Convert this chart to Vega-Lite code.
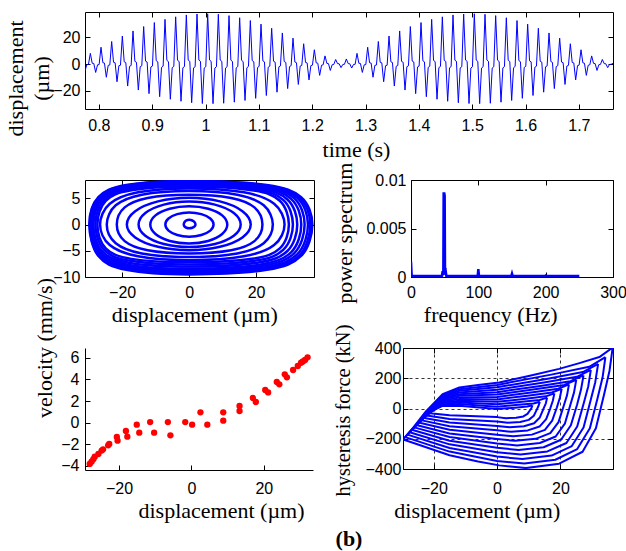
{
"$schema":"https://vega.github.io/schema/vega-lite/v6.json",
"padding":{"left":4,"top":10,"right":0,"bottom":10},
"background":"white",
"title":{"text":"(b)","orient":"bottom","anchor":"middle","frame":"group","dx":264,"font":"Liberation Serif","fontSize":22,"fontWeight":"bold","color":"black","offset":7},
"config":{
"view":{"stroke":"black","strokeWidth":1},
"axis":{"labelFont":"Liberation Sans","labelFontSize":16,"labelColor":"black","titleFont":"Liberation Serif","titleFontSize":22,"titleFontWeight":"normal","titleColor":"black","tickColor":"black","tickSize":-5,"tickWidth":1,"domain":false,"grid":false,"labelFlush":false,"labelOverlap":false,"labelPadding":10,"domainColor":"black","gridColor":"black","gridDash":[3,3],"gridWidth":0.8,"gridOpacity":1}
},
"spacing":336,
"bounds":"flush",
"vconcat":[
{"spacing":71,"bounds":"flush","vconcat":[
{"width":528,"height":97,
"data":{"values":[{"t":0.774,"v":-5},{"t":0.7775,"v":-0.5},{"t":0.7805,"v":-0.3},
{"t":0.784,"v":8},{"t":0.7875,"v":0.6},{"t":0.7905,"v":0.4},{"t":0.794,"v":-6.3},{"t":0.7975,"v":-0.6},{"t":0.8005,"v":-0.4},
{"t":0.804,"v":12.6},{"t":0.8075,"v":1},{"t":0.8105,"v":0.7},{"t":0.814,"v":-9.9},{"t":0.8175,"v":-1},{"t":0.8205,"v":-0.7},
{"t":0.824,"v":16.9},{"t":0.8275,"v":1.3},{"t":0.8305,"v":0.9},{"t":0.834,"v":-13.3},{"t":0.8375,"v":-1.3},{"t":0.8405,"v":-0.9},
{"t":0.844,"v":21},{"t":0.8475,"v":1.7},{"t":0.8505,"v":1.1},{"t":0.854,"v":-16.5},{"t":0.8575,"v":-1.7},{"t":0.8605,"v":-1.1},
{"t":0.864,"v":24.8},{"t":0.8675,"v":2},{"t":0.8705,"v":1.3},{"t":0.874,"v":-19.5},{"t":0.8775,"v":-2},{"t":0.8805,"v":-1.3},
{"t":0.884,"v":28.1},{"t":0.8875,"v":2.2},{"t":0.8905,"v":1.5},{"t":0.894,"v":-22.2},{"t":0.8975,"v":-2.2},{"t":0.9005,"v":-1.5},
{"t":0.904,"v":31.1},{"t":0.9075,"v":2.5},{"t":0.9105,"v":1.6},{"t":0.914,"v":-24.5},{"t":0.9175,"v":-2.5},{"t":0.9205,"v":-1.6},
{"t":0.924,"v":33.5},{"t":0.9275,"v":2.7},{"t":0.9305,"v":1.8},{"t":0.934,"v":-26.4},{"t":0.9375,"v":-2.7},{"t":0.9405,"v":-1.8},
{"t":0.944,"v":35.4},{"t":0.9475,"v":2.8},{"t":0.9505,"v":1.9},{"t":0.954,"v":-27.9},{"t":0.9575,"v":-2.8},{"t":0.9605,"v":-1.9},
{"t":0.964,"v":36.8},{"t":0.9675,"v":2.9},{"t":0.9705,"v":2},{"t":0.974,"v":-29},{"t":0.9775,"v":-2.9},{"t":0.9805,"v":-2},
{"t":0.984,"v":37.5},{"t":0.9875,"v":3},{"t":0.9905,"v":2},{"t":0.994,"v":-29.6},{"t":0.9975,"v":-3},{"t":1.0005,"v":-2},
{"t":1.004,"v":37.7},{"t":1.0075,"v":3},{"t":1.0105,"v":2},{"t":1.014,"v":-29.7},{"t":1.0175,"v":-3},{"t":1.0205,"v":-2},
{"t":1.024,"v":37.3},{"t":1.0275,"v":3},{"t":1.0305,"v":2},{"t":1.034,"v":-29.4},{"t":1.0375,"v":-3},{"t":1.0405,"v":-2},
{"t":1.044,"v":36.3},{"t":1.0475,"v":2.9},{"t":1.0505,"v":1.9},{"t":1.054,"v":-28.6},{"t":1.0575,"v":-2.9},{"t":1.0605,"v":-1.9},
{"t":1.064,"v":34.7},{"t":1.0675,"v":2.8},{"t":1.0705,"v":1.8},{"t":1.074,"v":-27.3},{"t":1.0775,"v":-2.8},{"t":1.0805,"v":-1.8},
{"t":1.084,"v":32.6},{"t":1.0875,"v":2.6},{"t":1.0905,"v":1.7},{"t":1.094,"v":-25.7},{"t":1.0975,"v":-2.6},{"t":1.1005,"v":-1.7},
{"t":1.104,"v":29.9},{"t":1.1075,"v":2.4},{"t":1.1105,"v":1.6},{"t":1.114,"v":-23.6},{"t":1.1175,"v":-2.4},{"t":1.1205,"v":-1.6},
{"t":1.124,"v":26.8},{"t":1.1275,"v":2.1},{"t":1.1305,"v":1.4},{"t":1.134,"v":-21.1},{"t":1.1375,"v":-2.1},{"t":1.1405,"v":-1.4},
{"t":1.144,"v":23.3},{"t":1.1475,"v":1.9},{"t":1.1505,"v":1.2},{"t":1.154,"v":-18.4},{"t":1.1575,"v":-1.9},{"t":1.1605,"v":-1.2},
{"t":1.164,"v":19.4},{"t":1.1675,"v":1.5},{"t":1.1705,"v":1},{"t":1.174,"v":-15.3},{"t":1.1775,"v":-1.5},{"t":1.1805,"v":-1},
{"t":1.184,"v":15.2},{"t":1.1875,"v":1.2},{"t":1.1905,"v":0.8},{"t":1.194,"v":-11.9},{"t":1.1975,"v":-1.2},{"t":1.2005,"v":-0.8},
{"t":1.204,"v":10.7},{"t":1.2075,"v":0.9},{"t":1.2105,"v":0.6},{"t":1.214,"v":-8.5},{"t":1.2175,"v":-0.9},{"t":1.2205,"v":-0.6},
{"t":1.224,"v":6.1},{"t":1.2275,"v":0.5},{"t":1.2305,"v":0.3},{"t":1.234,"v":-4.8},{"t":1.2375,"v":-0.5},{"t":1.2405,"v":-0.3},
{"t":1.244,"v":3.4},{"t":1.2475,"v":0.3},{"t":1.2505,"v":0.2},{"t":1.254,"v":-2.7},{"t":1.2575,"v":-0.3},{"t":1.2605,"v":-0.2},
{"t":1.264,"v":3.8},{"t":1.2675,"v":0.3},{"t":1.2705,"v":0.2},{"t":1.274,"v":-3},{"t":1.2775,"v":-0.3},{"t":1.2805,"v":-0.2},
{"t":1.284,"v":8},{"t":1.2875,"v":0.6},{"t":1.2905,"v":0.4},{"t":1.294,"v":-6.3},{"t":1.2975,"v":-0.6},{"t":1.3005,"v":-0.4},
{"t":1.304,"v":12.6},{"t":1.3075,"v":1},{"t":1.3105,"v":0.7},{"t":1.314,"v":-9.9},{"t":1.3175,"v":-1},{"t":1.3205,"v":-0.7},
{"t":1.324,"v":16.9},{"t":1.3275,"v":1.3},{"t":1.3305,"v":0.9},{"t":1.334,"v":-13.3},{"t":1.3375,"v":-1.3},{"t":1.3405,"v":-0.9},
{"t":1.344,"v":21},{"t":1.3475,"v":1.7},{"t":1.3505,"v":1.1},{"t":1.354,"v":-16.5},{"t":1.3575,"v":-1.7},{"t":1.3605,"v":-1.1},
{"t":1.364,"v":24.8},{"t":1.3675,"v":2},{"t":1.3705,"v":1.3},{"t":1.374,"v":-19.5},{"t":1.3775,"v":-2},{"t":1.3805,"v":-1.3},
{"t":1.384,"v":28.1},{"t":1.3875,"v":2.2},{"t":1.3905,"v":1.5},{"t":1.394,"v":-22.2},{"t":1.3975,"v":-2.2},{"t":1.4005,"v":-1.5},
{"t":1.404,"v":31.1},{"t":1.4075,"v":2.5},{"t":1.4105,"v":1.6},{"t":1.414,"v":-24.5},{"t":1.4175,"v":-2.5},{"t":1.4205,"v":-1.6},
{"t":1.424,"v":33.5},{"t":1.4275,"v":2.7},{"t":1.4305,"v":1.8},{"t":1.434,"v":-26.4},{"t":1.4375,"v":-2.7},{"t":1.4405,"v":-1.8},
{"t":1.444,"v":35.4},{"t":1.4475,"v":2.8},{"t":1.4505,"v":1.9},{"t":1.454,"v":-27.9},{"t":1.4575,"v":-2.8},{"t":1.4605,"v":-1.9},
{"t":1.464,"v":36.8},{"t":1.4675,"v":2.9},{"t":1.4705,"v":2},{"t":1.474,"v":-29},{"t":1.4775,"v":-2.9},{"t":1.4805,"v":-2},
{"t":1.484,"v":37.5},{"t":1.4875,"v":3},{"t":1.4905,"v":2},{"t":1.494,"v":-29.6},{"t":1.4975,"v":-3},{"t":1.5005,"v":-2},
{"t":1.504,"v":37.7},{"t":1.5075,"v":3},{"t":1.5105,"v":2},{"t":1.514,"v":-29.7},{"t":1.5175,"v":-3},{"t":1.5205,"v":-2},
{"t":1.524,"v":37.3},{"t":1.5275,"v":3},{"t":1.5305,"v":2},{"t":1.534,"v":-29.4},{"t":1.5375,"v":-3},{"t":1.5405,"v":-2},
{"t":1.544,"v":36.3},{"t":1.5475,"v":2.9},{"t":1.5505,"v":1.9},{"t":1.554,"v":-28.6},{"t":1.5575,"v":-2.9},{"t":1.5605,"v":-1.9},
{"t":1.564,"v":34.7},{"t":1.5675,"v":2.8},{"t":1.5705,"v":1.8},{"t":1.574,"v":-27.3},{"t":1.5775,"v":-2.8},{"t":1.5805,"v":-1.8},
{"t":1.584,"v":32.6},{"t":1.5875,"v":2.6},{"t":1.5905,"v":1.7},{"t":1.594,"v":-25.7},{"t":1.5975,"v":-2.6},{"t":1.6005,"v":-1.7},
{"t":1.604,"v":29.9},{"t":1.6075,"v":2.4},{"t":1.6105,"v":1.6},{"t":1.614,"v":-23.6},{"t":1.6175,"v":-2.4},{"t":1.6205,"v":-1.6},
{"t":1.624,"v":26.8},{"t":1.6275,"v":2.1},{"t":1.6305,"v":1.4},{"t":1.634,"v":-21.1},{"t":1.6375,"v":-2.1},{"t":1.6405,"v":-1.4},
{"t":1.644,"v":23.3},{"t":1.6475,"v":1.9},{"t":1.6505,"v":1.2},{"t":1.654,"v":-18.4},{"t":1.6575,"v":-1.9},{"t":1.6605,"v":-1.2},
{"t":1.664,"v":19.4},{"t":1.6675,"v":1.5},{"t":1.6705,"v":1},{"t":1.674,"v":-15.3},{"t":1.6775,"v":-1.5},{"t":1.6805,"v":-1},
{"t":1.684,"v":15.2},{"t":1.6875,"v":1.2},{"t":1.6905,"v":0.8},{"t":1.694,"v":-11.9},{"t":1.6975,"v":-1.2},{"t":1.7005,"v":-0.8},
{"t":1.704,"v":10.7},{"t":1.7075,"v":0.9},{"t":1.7105,"v":0.6},{"t":1.714,"v":-8.5},{"t":1.7175,"v":-0.9},{"t":1.7205,"v":-0.6},
{"t":1.724,"v":6.1},{"t":1.7275,"v":0.5},{"t":1.7305,"v":0.3},{"t":1.734,"v":-4.8},{"t":1.7375,"v":-0.5},{"t":1.7405,"v":-0.3},
{"t":1.744,"v":3.4},{"t":1.7475,"v":0.3},{"t":1.7505,"v":0.2},{"t":1.754,"v":-2.7},{"t":1.7575,"v":-0.3},{"t":1.7605,"v":-0.2},
{"t":1.764,"v":0.5}]},
"layer":[
{"mark":{"type":"line","color":"#0000ff","strokeWidth":1,"clip":true},
"encoding":{
"x":{"field":"t","type":"quantitative","scale":{"domain":[0.774,1.764],"nice":false,"zero":false},"axis":{"orient":"bottom","title":"time (s)","values":[0.8,0.9,1,1.1,1.2,1.3,1.4,1.5,1.6,1.7],"format":"~g","labelPadding":13,"titleX":271,"titleY":47,"titleBaseline":"alphabetic"}},
"y":{"field":"v","type":"quantitative","scale":{"domain":[-33.7,39],"nice":false,"zero":false},"axis":{"orient":"left","title":["displacement","(µm)"],"values":[-20,0,20],"labelPadding":10,"titleX":-62.5,"titleY":66,"titleBaseline":"alphabetic","titleLineHeight":25.5,"titleAngle":270}}}},
{"mark":{"type":"point","opacity":0},
"encoding":{
"x":{"field":"t","type":"quantitative","scale":{"domain":[0.774,1.764],"nice":false,"zero":false},"axis":{"orient":"top","labels":false,"title":null,"values":[0.8,0.9,1,1.1,1.2,1.3,1.4,1.5,1.6,1.7]}},
"y":{"field":"v","type":"quantitative","scale":{"domain":[-33.7,39],"nice":false,"zero":false},"axis":{"orient":"right","labels":false,"title":null,"values":[-20,0,20]}}}}
],
"resolve":{"axis":{"x":"independent","y":"independent"}}
},
{"spacing":97,"bounds":"flush","hconcat":[
{"width":229,"height":97,
"data":{"values":[
{"d":1.9,"v":0,"g":1,"o":0},{"d":1.65,"v":0.45,"g":1,"o":1},{"d":0.95,"v":0.78,"g":1,"o":2},{"d":0,"v":0.9,"g":1,"o":3},{"d":-0.8,"v":0.78,"g":1,"o":4},{"d":-1.39,"v":0.45,"g":1,"o":5},{"d":-1.6,"v":0,"g":1,"o":6},{"d":-1.39,"v":-0.35,"g":1,"o":7},{"d":-0.8,"v":-0.61,"g":1,"o":8},{"d":0,"v":-0.7,"g":1,"o":9},{"d":0.95,"v":-0.61,"g":1,"o":10},{"d":1.65,"v":-0.35,"g":1,"o":11},
{"d":7.3,"v":0,"g":2,"o":0},{"d":6.32,"v":1.15,"g":2,"o":1},{"d":3.65,"v":1.99,"g":2,"o":2},{"d":0,"v":2.3,"g":2,"o":3},{"d":-3.55,"v":1.99,"g":2,"o":4},{"d":-6.15,"v":1.15,"g":2,"o":5},{"d":-7.1,"v":0,"g":2,"o":6},{"d":-6.15,"v":-1.15,"g":2,"o":7},{"d":-3.55,"v":-1.99,"g":2,"o":8},{"d":0,"v":-2.3,"g":2,"o":9},{"d":3.65,"v":-1.99,"g":2,"o":10},{"d":6.32,"v":-1.15,"g":2,"o":11},
{"d":11.4,"v":0,"g":3,"o":0},{"d":9.87,"v":1.75,"g":3,"o":1},{"d":5.7,"v":3.03,"g":3,"o":2},{"d":0,"v":3.5,"g":3,"o":3},{"d":-5.8,"v":3.03,"g":3,"o":4},{"d":-10.05,"v":1.75,"g":3,"o":5},{"d":-11.6,"v":0,"g":3,"o":6},{"d":-10.05,"v":-1.8,"g":3,"o":7},{"d":-5.8,"v":-3.12,"g":3,"o":8},{"d":0,"v":-3.6,"g":3,"o":9},{"d":5.7,"v":-3.12,"g":3,"o":10},{"d":9.87,"v":-1.8,"g":3,"o":11},
{"d":15.4,"v":0,"g":4,"o":0},{"d":13.34,"v":2.2,"g":4,"o":1},{"d":7.7,"v":3.81,"g":4,"o":2},{"d":0,"v":4.4,"g":4,"o":3},{"d":-7.55,"v":3.81,"g":4,"o":4},{"d":-13.08,"v":2.2,"g":4,"o":5},{"d":-15.1,"v":0,"g":4,"o":6},{"d":-13.08,"v":-2.15,"g":4,"o":7},{"d":-7.55,"v":-3.72,"g":4,"o":8},{"d":0,"v":-4.3,"g":4,"o":9},{"d":7.7,"v":-3.72,"g":4,"o":10},{"d":13.34,"v":-2.15,"g":4,"o":11},
{"d":18.4,"v":0,"g":5,"o":0},{"d":15.93,"v":2.55,"g":5,"o":1},{"d":9.2,"v":4.42,"g":5,"o":2},{"d":0,"v":5.1,"g":5,"o":3},{"d":-9.3,"v":4.42,"g":5,"o":4},{"d":-16.11,"v":2.55,"g":5,"o":5},{"d":-18.6,"v":0,"g":5,"o":6},{"d":-16.11,"v":-2.45,"g":5,"o":7},{"d":-9.3,"v":-4.24,"g":5,"o":8},{"d":0,"v":-4.9,"g":5,"o":9},{"d":9.2,"v":-4.24,"g":5,"o":10},{"d":15.93,"v":-2.45,"g":5,"o":11},
{"d":21.9,"v":0,"g":6,"o":0},{"d":19.51,"v":3.27,"g":6,"o":1},{"d":12.57,"v":5.08,"g":6,"o":2},{"d":0,"v":5.7,"g":6,"o":3},{"d":-12.4,"v":5.08,"g":6,"o":4},{"d":-19.25,"v":3.27,"g":6,"o":5},{"d":-21.6,"v":0,"g":6,"o":6},{"d":-19.25,"v":-3.16,"g":6,"o":7},{"d":-12.4,"v":-4.9,"g":6,"o":8},{"d":0,"v":-5.5,"g":6,"o":9},{"d":12.57,"v":-4.9,"g":6,"o":10},{"d":19.51,"v":-3.16,"g":6,"o":11},
{"d":25,"v":0,"g":7,"o":0},{"d":22.28,"v":3.67,"g":7,"o":1},{"d":14.35,"v":5.7,"g":7,"o":2},{"d":0,"v":6.4,"g":7,"o":3},{"d":-14.12,"v":5.7,"g":7,"o":4},{"d":-21.92,"v":3.67,"g":7,"o":5},{"d":-24.6,"v":0,"g":7,"o":6},{"d":-21.92,"v":-3.56,"g":7,"o":7},{"d":-14.12,"v":-5.52,"g":7,"o":8},{"d":0,"v":-6.2,"g":7,"o":9},{"d":14.35,"v":-5.52,"g":7,"o":10},{"d":22.28,"v":-3.56,"g":7,"o":11},
{"d":28.5,"v":0,"g":8,"o":0},{"d":25.39,"v":3.96,"g":8,"o":1},{"d":16.36,"v":6.15,"g":8,"o":2},{"d":0,"v":6.9,"g":8,"o":3},{"d":-15.27,"v":6.15,"g":8,"o":4},{"d":-23.7,"v":3.96,"g":8,"o":5},{"d":-26.6,"v":0,"g":8,"o":6},{"d":-23.7,"v":-3.9,"g":8,"o":7},{"d":-15.27,"v":-6.06,"g":8,"o":8},{"d":0,"v":-6.8,"g":8,"o":9},{"d":16.36,"v":-6.06,"g":8,"o":10},{"d":25.39,"v":-3.9,"g":8,"o":11},
{"d":29.8,"v":0,"g":9,"o":0},{"d":27.09,"v":4.54,"g":9,"o":1},{"d":18.77,"v":6.54,"g":9,"o":2},{"d":0,"v":7.2,"g":9,"o":3},{"d":-17.26,"v":6.54,"g":9,"o":4},{"d":-24.91,"v":4.54,"g":9,"o":5},{"d":-27.4,"v":0,"g":9,"o":6},{"d":-24.91,"v":-4.54,"g":9,"o":7},{"d":-17.26,"v":-6.54,"g":9,"o":8},{"d":0,"v":-7.2,"g":9,"o":9},{"d":18.77,"v":-6.54,"g":9,"o":10},{"d":27.09,"v":-4.54,"g":9,"o":11},
{"d":31,"v":0,"g":10,"o":0},{"d":28.18,"v":4.66,"g":10,"o":1},{"d":19.53,"v":6.73,"g":10,"o":2},{"d":0,"v":7.4,"g":10,"o":3},{"d":-17.64,"v":6.73,"g":10,"o":4},{"d":-25.45,"v":4.66,"g":10,"o":5},{"d":-28,"v":0,"g":10,"o":6},{"d":-25.45,"v":-4.79,"g":10,"o":7},{"d":-17.64,"v":-6.91,"g":10,"o":8},{"d":0,"v":-7.6,"g":10,"o":9},{"d":19.53,"v":-6.91,"g":10,"o":10},{"d":28.18,"v":-4.79,"g":10,"o":11},
{"d":32.3,"v":0,"g":11,"o":0},{"d":29.36,"v":4.79,"g":11,"o":1},{"d":20.35,"v":6.91,"g":11,"o":2},{"d":0,"v":7.6,"g":11,"o":3},{"d":-18.02,"v":6.91,"g":11,"o":4},{"d":-26,"v":4.79,"g":11,"o":5},{"d":-28.6,"v":0,"g":11,"o":6},{"d":-26,"v":-5.04,"g":11,"o":7},{"d":-18.02,"v":-7.27,"g":11,"o":8},{"d":0,"v":-8,"g":11,"o":9},{"d":20.35,"v":-7.27,"g":11,"o":10},{"d":29.36,"v":-5.04,"g":11,"o":11},
{"d":33.5,"v":0,"g":12,"o":0},{"d":30.45,"v":4.91,"g":12,"o":1},{"d":21.11,"v":7.09,"g":12,"o":2},{"d":0,"v":7.8,"g":12,"o":3},{"d":-18.27,"v":7.09,"g":12,"o":4},{"d":-26.36,"v":4.91,"g":12,"o":5},{"d":-29,"v":0,"g":12,"o":6},{"d":-26.36,"v":-5.29,"g":12,"o":7},{"d":-18.27,"v":-7.64,"g":12,"o":8},{"d":0,"v":-8.4,"g":12,"o":9},{"d":21.11,"v":-7.64,"g":12,"o":10},{"d":30.45,"v":-5.29,"g":12,"o":11},
{"d":34.5,"v":0,"g":13,"o":0},{"d":31.36,"v":5.04,"g":13,"o":1},{"d":21.74,"v":7.27,"g":13,"o":2},{"d":0,"v":8,"g":13,"o":3},{"d":-18.46,"v":7.27,"g":13,"o":4},{"d":-26.63,"v":5.04,"g":13,"o":5},{"d":-29.3,"v":0,"g":13,"o":6},{"d":-26.63,"v":-5.48,"g":13,"o":7},{"d":-18.46,"v":-7.91,"g":13,"o":8},{"d":0,"v":-8.7,"g":13,"o":9},{"d":21.74,"v":-7.91,"g":13,"o":10},{"d":31.36,"v":-5.48,"g":13,"o":11},
{"d":35.5,"v":0,"g":14,"o":0},{"d":32.27,"v":5.1,"g":14,"o":1},{"d":22.37,"v":7.36,"g":14,"o":2},{"d":0,"v":8.1,"g":14,"o":3},{"d":-18.59,"v":7.36,"g":14,"o":4},{"d":-26.82,"v":5.1,"g":14,"o":5},{"d":-29.5,"v":0,"g":14,"o":6},{"d":-26.82,"v":-5.67,"g":14,"o":7},{"d":-18.59,"v":-8.18,"g":14,"o":8},{"d":0,"v":-9,"g":14,"o":9},{"d":22.37,"v":-8.18,"g":14,"o":10},{"d":32.27,"v":-5.67,"g":14,"o":11},
{"d":36.2,"v":0,"g":15,"o":0},{"d":32.91,"v":5.17,"g":15,"o":1},{"d":22.81,"v":7.45,"g":15,"o":2},{"d":0,"v":8.2,"g":15,"o":3},{"d":-18.71,"v":7.45,"g":15,"o":4},{"d":-27,"v":5.17,"g":15,"o":5},{"d":-29.7,"v":0,"g":15,"o":6},{"d":-27,"v":-5.86,"g":15,"o":7},{"d":-18.71,"v":-8.45,"g":15,"o":8},{"d":0,"v":-9.3,"g":15,"o":9},{"d":22.81,"v":-8.45,"g":15,"o":10},{"d":32.91,"v":-5.86,"g":15,"o":11},
{"d":36.8,"v":0,"g":16,"o":0},{"d":33.45,"v":5.23,"g":16,"o":1},{"d":23.18,"v":7.54,"g":16,"o":2},{"d":0,"v":8.3,"g":16,"o":3},{"d":-18.77,"v":7.54,"g":16,"o":4},{"d":-27.09,"v":5.23,"g":16,"o":5},{"d":-29.8,"v":0,"g":16,"o":6},{"d":-27.09,"v":-5.99,"g":16,"o":7},{"d":-18.77,"v":-8.64,"g":16,"o":8},{"d":0,"v":-9.5,"g":16,"o":9},{"d":23.18,"v":-8.64,"g":16,"o":10},{"d":33.45,"v":-5.99,"g":16,"o":11}
]},
"layer":[
{"mark":{"type":"line","interpolate":"cardinal-closed","color":"#0000ff","strokeWidth":2.5,"clip":true},
"encoding":{
"x":{"field":"d","type":"quantitative","scale":{"domain":[-31.1,37.3],"nice":false,"zero":false},"axis":{"orient":"bottom","title":"displacement (µm)","values":[-20,0,20],"labelPadding":12.5,"titleX":109.3,"titleY":44,"titleBaseline":"alphabetic"}},
"y":{"field":"v","type":"quantitative","scale":{"domain":[-10,8.5],"nice":false,"zero":false},"axis":{"orient":"left","title":null,"values":[-10,-5,0,5],"labelPadding":10}},
"detail":{"field":"g","type":"nominal"},
"order":{"field":"o","type":"quantitative"}}},
{"mark":{"type":"point","opacity":0},
"encoding":{
"x":{"field":"d","type":"quantitative","scale":{"domain":[-31.1,37.3],"nice":false,"zero":false},"axis":{"orient":"top","labels":false,"title":null,"values":[-20,0,20]}},
"y":{"field":"v","type":"quantitative","scale":{"domain":[-10,8.5],"nice":false,"zero":false},"axis":{"orient":"right","labels":false,"title":null,"values":[-10,-5,0,5]}}}}
],
"resolve":{"axis":{"x":"independent","y":"independent"}}
},
{"width":202,"height":97,
"data":{"values":[{"f":0,"p":0.0016},{"f":1,"p":0.0001},{"f":46,"p":0.0001},{"f":47,"p":0.0006},{"f":48,"p":0.0002},{"f":48.5,"p":0.0086},{"f":49.5,"p":0.0086},{"f":50,"p":0.0084},{"f":50.5,"p":0.0005},{"f":51.5,"p":0.0006},{"f":52.5,"p":0.0001},{"f":99,"p":0.0001},{"f":100,"p":0.0008},{"f":101,"p":0.0001},{"f":149,"p":0.0001},{"f":150,"p":0.00035},{"f":151,"p":0.0001},{"f":199,"p":0.0001},{"f":200,"p":0.00015},{"f":201,"p":0.0001},{"f":250,"p":0.0001}]},
"layer":[
{"mark":{"type":"line","color":"#0000ff","strokeWidth":2.5,"clip":true},
"encoding":{
"x":{"field":"f","type":"quantitative","scale":{"domain":[0,300],"nice":false,"zero":false},"axis":{"orient":"bottom","title":"frequency (Hz)","values":[0,100,200,300],"labelPadding":12.5,"titleX":79.2,"titleY":44,"titleBaseline":"alphabetic"}},
"y":{"field":"p","type":"quantitative","scale":{"domain":[0,0.01],"nice":false,"zero":false},"axis":{"orient":"left","title":"power spectrum","values":[0,0.005,0.01],"format":"~g","labelPadding":10,"titleX":-59.8,"titleY":52.8,"titleBaseline":"alphabetic"}}}},
{"mark":{"type":"point","opacity":0},
"encoding":{
"x":{"field":"f","type":"quantitative","scale":{"domain":[0,300],"nice":false,"zero":false},"axis":{"orient":"top","labels":false,"title":null,"values":[0,100,200,300]}},
"y":{"field":"p","type":"quantitative","scale":{"domain":[0,0.01],"nice":false,"zero":false},"axis":{"orient":"right","labels":false,"title":null,"values":[0,0.005,0.01]}}}}
],
"resolve":{"axis":{"x":"independent","y":"independent"}}
}
]}
]},
{"spacing":90,"bounds":"flush","hconcat":[
{"width":228,"height":122,
"view":{"stroke":null},
"data":{"values":[{"d":32.1,"v":6.04},{"d":31.4,"v":5.79},{"d":30.8,"v":5.65},{"d":30.3,"v":5.54},{"d":29.4,"v":5.24},{"d":28.1,"v":4.87},{"d":25.8,"v":4.47},{"d":26.4,"v":4.19},{"d":23.6,"v":3.76},{"d":24.3,"v":3.54},{"d":20.4,"v":3.02},{"d":21.2,"v":2.8},{"d":17,"v":2.28},{"d":17.8,"v":1.91},{"d":13.3,"v":1.54},{"d":13.3,"v":1.08},{"d":8.8,"v":0.96},{"d":8.8,"v":0.19},{"d":2.5,"v":0.96},{"d":4.4,"v":-0.18},{"d":0.2,"v":-0.18},{"d":-1.7,"v":0.06},{"d":-6.5,"v":0.06},{"d":-5.8,"v":-1.17},{"d":-11.4,"v":0.06},{"d":-10.3,"v":-0.92},{"d":-15.1,"v":-0.18},{"d":-14.4,"v":-0.92},{"d":-18.1,"v":-0.77},{"d":-17.7,"v":-1.29},{"d":-20.6,"v":-1.32},{"d":-20.4,"v":-1.66},{"d":-22.7,"v":-1.97},{"d":-23,"v":-2.09},{"d":-24.4,"v":-2.46},{"d":-24.8,"v":-2.58},{"d":-25.7,"v":-2.89},{"d":-26.7,"v":-3.14},{"d":-27.1,"v":-3.38},{"d":-27.6,"v":-3.6},{"d":-28.1,"v":-3.81}]},
"mark":{"type":"circle","color":"#ff0000","size":40,"opacity":1},
"encoding":{
"x":{"field":"d","type":"quantitative","scale":{"domain":[-29.4,33.6],"nice":false,"zero":false},"axis":{"title":"displacement (µm)","values":[-20,0,20],"domain":true,"labelPadding":15,"titleX":136,"titleY":47,"titleBaseline":"alphabetic"}},
"y":{"field":"v","type":"quantitative","scale":{"domain":[-4.37,6.9],"nice":false,"zero":false},"axis":{"title":"velocity (mm/s)","values":[-4,-2,0,2,4,6],"domain":true,"labelPadding":11,"titleX":-33.8,"titleY":-0.5,"titleBaseline":"alphabetic"}}}
},
{"width":210,"height":121,
"data":{"values":[
{"d":36.5,"f":403,"g":0,"o":0},{"d":32.3,"f":340,"g":0,"o":1},{"d":26,"f":300,"g":0,"o":2},{"d":19.6,"f":262,"g":0,"o":3},{"d":10,"f":215,"g":0,"o":4},{"d":0.7,"f":172,"g":0,"o":5},{"d":-6,"f":155,"g":0,"o":6},{"d":-11.9,"f":139,"g":0,"o":7},{"d":-17.2,"f":94,"g":0,"o":8},{"d":-22.4,"f":-18,"g":0,"o":9},{"d":-26.6,"f":-130,"g":0,"o":10},{"d":-29.7,"f":-205,"g":0,"o":11},{"d":-24.5,"f":-241,"g":0,"o":12},{"d":-15,"f":-309,"g":0,"o":13},{"d":-6,"f":-350,"g":0,"o":14},{"d":0.7,"f":-376,"g":0,"o":15},{"d":9.1,"f":-394,"g":0,"o":16},{"d":19.6,"f":-365,"g":0,"o":17},{"d":27,"f":-286,"g":0,"o":18},{"d":31.2,"f":-130,"g":0,"o":19},{"d":33.8,"f":94,"g":0,"o":20},{"d":35.5,"f":250,"g":0,"o":21},{"d":36.5,"f":403,"g":0,"o":22},
{"d":34.2,"f":340,"g":1,"o":0},{"d":29.1,"f":275.6,"g":1,"o":1},{"d":17.1,"f":224.1,"g":1,"o":2},{"d":0,"f":156,"g":1,"o":3},{"d":-12,"f":128,"g":1,"o":4},{"d":-17.2,"f":87,"g":1,"o":5},{"d":-29,"f":-189,"g":1,"o":6},{"d":-15,"f":-285,"g":1,"o":7},{"d":0,"f":-347,"g":1,"o":8},{"d":8.6,"f":-364,"g":1,"o":9},{"d":18.4,"f":-338.7,"g":1,"o":10},{"d":25.3,"f":-268.3,"g":1,"o":11},{"d":29.3,"f":-131,"g":1,"o":12},{"d":31.7,"f":66.8,"g":1,"o":13},{"d":33.3,"f":204.8,"g":1,"o":14},{"d":34.2,"f":340,"g":1,"o":15},
{"d":31.9,"f":295,"g":2,"o":0},{"d":27.1,"f":240.8,"g":2,"o":1},{"d":16,"f":197.4,"g":2,"o":2},{"d":0,"f":140,"g":2,"o":3},{"d":-12,"f":117,"g":2,"o":4},{"d":-17.2,"f":80,"g":2,"o":5},{"d":-28.3,"f":-173,"g":2,"o":6},{"d":-15,"f":-261,"g":2,"o":7},{"d":0,"f":-318,"g":2,"o":8},{"d":8,"f":-334,"g":2,"o":9},{"d":17.2,"f":-311.4,"g":2,"o":10},{"d":23.6,"f":-248.5,"g":2,"o":11},{"d":27.3,"f":-125.8,"g":2,"o":12},{"d":29.5,"f":50.9,"g":2,"o":13},{"d":31,"f":174.2,"g":2,"o":14},{"d":31.9,"f":295,"g":2,"o":15},
{"d":29.6,"f":255,"g":3,"o":0},{"d":25.2,"f":209.2,"g":3,"o":1},{"d":14.8,"f":172.5,"g":3,"o":2},{"d":0,"f":124,"g":3,"o":3},{"d":-12,"f":106,"g":3,"o":4},{"d":-17.2,"f":73,"g":3,"o":5},{"d":-27.6,"f":-157,"g":3,"o":6},{"d":-15,"f":-237,"g":3,"o":7},{"d":0,"f":-289,"g":3,"o":8},{"d":7.4,"f":-304,"g":3,"o":9},{"d":15.9,"f":-283.9,"g":3,"o":10},{"d":21.9,"f":-228,"g":3,"o":11},{"d":25.3,"f":-119,"g":3,"o":12},{"d":27.4,"f":38.1,"g":3,"o":13},{"d":28.8,"f":147.7,"g":3,"o":14},{"d":29.6,"f":255,"g":3,"o":15},
{"d":27.3,"f":220,"g":4,"o":0},{"d":23.2,"f":180.8,"g":4,"o":1},{"d":13.65,"f":149.4,"g":4,"o":2},{"d":0,"f":108,"g":4,"o":3},{"d":-12,"f":95,"g":4,"o":4},{"d":-17.2,"f":66,"g":4,"o":5},{"d":-26.9,"f":-141,"g":4,"o":6},{"d":-15,"f":-213,"g":4,"o":7},{"d":0,"f":-260,"g":4,"o":8},{"d":6.8,"f":-274,"g":4,"o":9},{"d":14.7,"f":-256.2,"g":4,"o":10},{"d":20.2,"f":-206.8,"g":4,"o":11},{"d":23.3,"f":-110.5,"g":4,"o":12},{"d":25.3,"f":28.3,"g":4,"o":13},{"d":26.5,"f":125.2,"g":4,"o":14},{"d":27.3,"f":220,"g":4,"o":15},
{"d":25,"f":190,"g":5,"o":0},{"d":21.25,"f":155.7,"g":5,"o":1},{"d":12.5,"f":128.3,"g":5,"o":2},{"d":0,"f":92,"g":5,"o":3},{"d":-12,"f":84,"g":5,"o":4},{"d":-17.2,"f":59,"g":5,"o":5},{"d":-26.2,"f":-125,"g":5,"o":6},{"d":-15,"f":-189,"g":5,"o":7},{"d":0,"f":-231,"g":5,"o":8},{"d":6.3,"f":-244,"g":5,"o":9},{"d":13.5,"f":-228.4,"g":5,"o":10},{"d":18.5,"f":-185,"g":5,"o":11},{"d":21.4,"f":-100.3,"g":5,"o":12},{"d":23.1,"f":21.6,"g":5,"o":13},{"d":24.3,"f":106.7,"g":5,"o":14},{"d":25,"f":190,"g":5,"o":15},
{"d":22.7,"f":160,"g":6,"o":0},{"d":19.3,"f":130.6,"g":6,"o":1},{"d":11.35,"f":107.1,"g":6,"o":2},{"d":0,"f":76,"g":6,"o":3},{"d":-12,"f":73,"g":6,"o":4},{"d":-17.2,"f":52,"g":6,"o":5},{"d":-25.5,"f":-109,"g":6,"o":6},{"d":-15,"f":-165,"g":6,"o":7},{"d":0,"f":-202,"g":6,"o":8},{"d":5.7,"f":-214,"g":6,"o":9},{"d":12.2,"f":-200.5,"g":6,"o":10},{"d":16.8,"f":-163.1,"g":6,"o":11},{"d":19.4,"f":-90.2,"g":6,"o":12},{"d":21,"f":14.9,"g":6,"o":13},{"d":22.1,"f":88.2,"g":6,"o":14},{"d":22.7,"f":160,"g":6,"o":15},
{"d":20.4,"f":130,"g":7,"o":0},{"d":17.3,"f":105.5,"g":7,"o":1},{"d":10.2,"f":85.9,"g":7,"o":2},{"d":0,"f":60,"g":7,"o":3},{"d":-12,"f":62,"g":7,"o":4},{"d":-17.2,"f":45,"g":7,"o":5},{"d":-24.8,"f":-93,"g":7,"o":6},{"d":-15,"f":-141,"g":7,"o":7},{"d":0,"f":-173,"g":7,"o":8},{"d":5.1,"f":-184,"g":7,"o":9},{"d":11,"f":-172.7,"g":7,"o":10},{"d":15.1,"f":-141.3,"g":7,"o":11},{"d":17.4,"f":-80.1,"g":7,"o":12},{"d":18.9,"f":8.2,"g":7,"o":13},{"d":19.8,"f":69.7,"g":7,"o":14},{"d":20.4,"f":130,"g":7,"o":15},
{"d":18.1,"f":100,"g":8,"o":0},{"d":15.4,"f":80.4,"g":8,"o":1},{"d":9.05,"f":64.7,"g":8,"o":2},{"d":0,"f":44,"g":8,"o":3},{"d":-12,"f":51,"g":8,"o":4},{"d":-17.2,"f":38,"g":8,"o":5},{"d":-24.1,"f":-77,"g":8,"o":6},{"d":-15,"f":-117,"g":8,"o":7},{"d":0,"f":-144,"g":8,"o":8},{"d":4.5,"f":-154,"g":8,"o":9},{"d":9.7,"f":-144.9,"g":8,"o":10},{"d":13.4,"f":-119.5,"g":8,"o":11},{"d":15.5,"f":-69.9,"g":8,"o":12},{"d":16.8,"f":1.4,"g":8,"o":13},{"d":17.6,"f":51.2,"g":8,"o":14},{"d":18.1,"f":100,"g":8,"o":15},
{"d":15.8,"f":72,"g":9,"o":0},{"d":13.4,"f":56.6,"g":9,"o":1},{"d":7.9,"f":44.3,"g":9,"o":2},{"d":0,"f":28,"g":9,"o":3},{"d":-12,"f":40,"g":9,"o":4},{"d":-17.2,"f":31,"g":9,"o":5},{"d":-23.4,"f":-61,"g":9,"o":6},{"d":-15,"f":-93,"g":9,"o":7},{"d":0,"f":-115,"g":9,"o":8},{"d":4,"f":-124,"g":9,"o":9},{"d":8.5,"f":-116.9,"g":9,"o":10},{"d":11.7,"f":-97.3,"g":9,"o":11},{"d":13.5,"f":-59.1,"g":9,"o":12},{"d":14.6,"f":-4.1,"g":9,"o":13},{"d":15.4,"f":34.4,"g":9,"o":14},{"d":15.8,"f":72,"g":9,"o":15},
{"d":13.5,"f":45,"g":10,"o":0},{"d":11.5,"f":33.5,"g":10,"o":1},{"d":6.75,"f":24.2,"g":10,"o":2},{"d":0,"f":12,"g":10,"o":3},{"d":-12,"f":29,"g":10,"o":4},{"d":-17.2,"f":24,"g":10,"o":5},{"d":-22.7,"f":-45,"g":10,"o":6},{"d":-15,"f":-69,"g":10,"o":7},{"d":0,"f":-86,"g":10,"o":8},{"d":3.4,"f":-94,"g":10,"o":9},{"d":7.3,"f":-89,"g":10,"o":10},{"d":10,"f":-75.1,"g":10,"o":11},{"d":11.6,"f":-48,"g":10,"o":12},{"d":12.5,"f":-8.9,"g":10,"o":13},{"d":13.1,"f":18.3,"g":10,"o":14},{"d":13.5,"f":45,"g":10,"o":15},
{"d":11.2,"f":22,"g":11,"o":0},{"d":9.5,"f":12.9,"g":11,"o":1},{"d":5.6,"f":5.6,"g":11,"o":2},{"d":0,"f":-4,"g":11,"o":3},{"d":-12,"f":18,"g":11,"o":4},{"d":-17.2,"f":17,"g":11,"o":5},{"d":-22,"f":-29,"g":11,"o":6},{"d":-15,"f":-45,"g":11,"o":7},{"d":0,"f":-57,"g":11,"o":8},{"d":2.8,"f":-64,"g":11,"o":9},{"d":6,"f":-60.9,"g":11,"o":10},{"d":8.3,"f":-52.3,"g":11,"o":11},{"d":9.6,"f":-35.5,"g":11,"o":12},{"d":10.4,"f":-11.4,"g":11,"o":13},{"d":10.9,"f":5.5,"g":11,"o":14},{"d":11.2,"f":22,"g":11,"o":15}
]},
"layer":[
{"mark":{"type":"line","color":"#0000ff","strokeWidth":2,"strokeJoin":"round","clip":true},
"encoding":{
"x":{"field":"d","type":"quantitative","scale":{"domain":[-29.7,36.6],"nice":false,"zero":false},"axis":{"orient":"bottom","title":"displacement (µm)","values":[-20,0,20],"grid":true,"labelPadding":16,"titleX":73.8,"titleY":48,"titleBaseline":"alphabetic"}},
"y":{"field":"f","type":"quantitative","scale":{"domain":[-400,400],"nice":false,"zero":false},"axis":{"orient":"left","title":"hysteresis force (kN)","values":[-400,-200,0,200,400],"grid":true,"labelPadding":7,"titleX":-53.5,"titleY":62,"titleBaseline":"alphabetic","titleFontSize":20.5}},
"detail":{"field":"g","type":"nominal"},
"order":{"field":"o","type":"quantitative"}}},
{"mark":{"type":"point","opacity":0},
"encoding":{
"x":{"field":"d","type":"quantitative","scale":{"domain":[-29.7,36.6],"nice":false,"zero":false},"axis":{"orient":"top","labels":false,"title":null,"grid":false,"values":[-20,0,20]}},
"y":{"field":"f","type":"quantitative","scale":{"domain":[-400,400],"nice":false,"zero":false},"axis":{"orient":"right","labels":false,"title":null,"grid":false,"values":[-400,-200,0,200,400]}}}}
],
"resolve":{"axis":{"x":"independent","y":"independent"}}
}
]}
]
}
